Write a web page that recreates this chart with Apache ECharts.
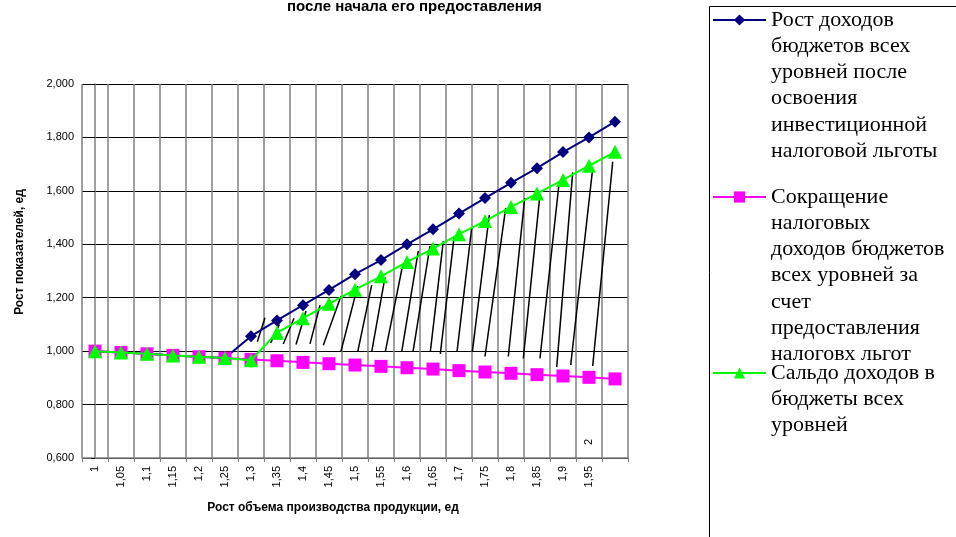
<!DOCTYPE html>
<html><head><meta charset="utf-8">
<script src="https://cdn.jsdelivr.net/npm/echarts@6/dist/echarts.min.js"></script>
<style>html,body{margin:0;padding:0;background:#fff}#c{width:956px;height:537px}</style>
</head><body><div id="c"></div>
<script>
// ---- data ----
const categories = ['1','1,05','1,1','1,15','1,2','1,25','1,3','1,35','1,4','1,45','1,5','1,55','1,6','1,65','1,7','1,75','1,8','1,85','1,9','1,95','2'];
const incomeGrowth = [1.000,0.995,0.990,0.984,0.979,0.974,1.056,1.115,1.172,1.229,1.288,1.341,1.400,1.456,1.515,1.573,1.630,1.685,1.745,1.800,1.859];
const taxReduction = [1.000,0.995,0.990,0.984,0.979,0.974,0.969,0.964,0.958,0.953,0.948,0.943,0.938,0.933,0.927,0.922,0.917,0.912,0.907,0.902,0.896];
const balance      = [1.000,0.995,0.990,0.984,0.979,0.974,0.966,1.069,1.123,1.177,1.230,1.280,1.334,1.384,1.438,1.487,1.540,1.590,1.641,1.694,1.746];
// hand-drawn hatch strokes (category-index units, value units)
const hatchX0 = [6.242,6.758,7.242,7.731,8.269,8.781,9.462,10.104,10.642,11.165,11.796,12.231,12.896,13.281,13.923,14.512,15.000,15.896,16.473,17.115,17.758,18.296,19.142];
const hatchY0 = [1.035,1.031,1.027,1.025,1.027,1.022,1.000,0.997,0.997,0.997,0.997,0.997,0.997,0.990,0.997,0.997,0.980,0.980,0.973,0.973,0.940,0.948,0.944];
const hatchX1 = [6.538,7.088,7.654,8.115,8.654,9.462,10.104,10.642,11.154,11.819,12.435,12.885,13.396,13.808,14.488,15.165,15.796,16.527,17.115,17.858,18.373,19.142,19.912];
const hatchY1 = [1.125,1.100,1.123,1.150,1.172,1.206,1.244,1.247,1.277,1.315,1.375,1.394,1.412,1.424,1.461,1.509,1.535,1.573,1.588,1.637,1.669,1.684,1.709];
const seriesNames = [
  'Рост доходов бюджетов всех уровней после освоения инвестиционной налоговой льготы',
  'Сокращение налоговых доходов бюджетов всех уровней за счет предоставления налогов льгот',
  'Сальдо доходов в бюджеты всех уровней'
];
const legendLines = [
  ['Рост доходов','бюджетов всех','уровней после','освоения','инвестиционной','налоговой льготы'],
  ['Сокращение','налоговых','доходов бюджетов','всех уровней за','счет','предоставления','налоговх льгот'],
  ['Сальдо доходов в','бюджеты всех','уровней']
];
const titleText = 'после начала его предоставления';
const xTitle = 'Рост объема производства продукции, ед';
const yTitle = 'Рост показателей, ед';

const colors = ['#000080','#FF00FF','#00FF00'];
const symbols = ['diamond','rect','triangle'];
const symbolSizes = [12,13,14];

const LH = 26.2;
const symYs = [20, 197, 373];
const legends = legendLines.map((lines, i) => {
  const n = lines.length;
  // blank lines before the text so that the first line sits level with the key
  const text = new Array(n - 1).fill('').concat(lines).join('\n');
  const H = (2 * n - 1) * LH;
  return {
    show: true, orient: 'vertical', left: 712, top: symYs[i] - H / 2, padding: 0,
    itemWidth: 53, itemHeight: 14,
    data: [{name: seriesNames[i]}],
    formatter: () => text,
    textStyle: {fontFamily: 'Liberation Serif', fontSize: 22, lineHeight: LH, color: '#000',
      backgroundColor: 'rgba(0,0,0,0)'},
    selectedMode: false
  };
});

const chart = echarts.init(document.getElementById('c'), null, {renderer: 'canvas'});
const dataSeries = [incomeGrowth, taxReduction, balance].map((d, i) => ({
  name: seriesNames[i], type: 'line', data: d,
  symbol: symbols[i], symbolSize: symbolSizes[i], showAllSymbol: true,
  itemStyle: {color: colors[i], borderWidth: 0},
  lineStyle: {color: colors[i], width: 2},
  z: 3 + i
}));

chart.setOption({
  animation: false,
  backgroundColor: '#fff',
  title: {text: titleText, left: 287, top: -1, padding: 0,
    textStyle: {fontFamily: 'Liberation Sans', fontWeight: 'bold', fontSize: 15, color: '#000'}},
  legend: legends,
  grid: {left: 82, top: 84, right: 328, bottom: 79, containLabel: false, outerBoundsMode: 'none'},
  xAxis: [{
    type: 'category', data: categories, boundaryGap: true,
    name: xTitle, nameLocation: 'middle', nameGap: 44,
    nameTextStyle: {fontFamily: 'Liberation Sans', fontWeight: 'bold', fontSize: 12, color: '#000', padding: [0, 44, 0, 0]},
    axisLine: {show: true, lineStyle: {color: '#808080', width: 1.5}},
    axisTick: {show: true, alignWithLabel: false, interval: 0, length: 4, lineStyle: {color: '#808080'}},
    axisLabel: {interval: 0, rotate: 90, margin: 8, fontFamily: 'Liberation Sans', fontSize: 11, color: '#000',
      formatter: (v, i) => (i === categories.length - 1 ? '' : v)},
    splitLine: {show: true, interval: 0, lineStyle: {color: '#808080', width: 1.5}}
  }, {
    type: 'value', show: false, min: -0.5, max: categories.length - 0.5, gridIndex: 0
  }],
  yAxis: {
    type: 'value', min: 0.6, max: 2.0, interval: 0.2,
    name: yTitle, nameLocation: 'middle', nameGap: 56,
    nameTextStyle: {fontFamily: 'Liberation Sans', fontWeight: 'bold', fontSize: 12, color: '#000', padding: [0, 0, 0, 38]},
    axisLine: {show: true, lineStyle: {color: '#808080', width: 1.5}},
    axisTick: {show: true, length: 4, lineStyle: {color: '#000'}},
    axisLabel: {fontFamily: 'Liberation Sans', fontSize: 11, color: '#000', margin: 8,
      formatter: v => v.toFixed(3).replace('.', ',')},
    splitLine: {show: true, lineStyle: {color: '#000', width: 1}}
  },
  series: [{
    type: 'custom', xAxisIndex: 1, yAxisIndex: 0, z: 2, silent: true,
    data: hatchX0.map((x, i) => [x, hatchY0[i], hatchX1[i], hatchY1[i]]),
    encode: {x: [0, 2], y: [1, 3]},
    renderItem: (params, api) => {
      const p1 = api.coord([api.value(0), api.value(1)]);
      const p2 = api.coord([api.value(2), api.value(3)]);
      return {type: 'line', shape: {x1: p1[0], y1: p1[1], x2: p2[0], y2: p2[1]},
        style: {stroke: '#000', lineWidth: 1.5}};
    }
  }].concat(dataSeries),
  graphic: [{
    type: 'rect', shape: {x: 709.5, y: 6.5, width: 400, height: 700},
    style: {fill: 'none', stroke: '#000', lineWidth: 1}, z: -1
  }]
});

// stray last category label drawn inside the plot as in the original
const pos = chart.convertToPixel({gridIndex: 0}, [categories.length - 2, 0.66]);
chart.setOption({graphic: [{}, {
  type: 'text', x: pos[0], y: pos[1], rotation: Math.PI / 2,
  style: {text: categories[categories.length - 1], fontFamily: 'Liberation Sans', fontSize: 11, fill: '#000',
    align: 'center', verticalAlign: 'middle'}
}]});
</script></body></html>
